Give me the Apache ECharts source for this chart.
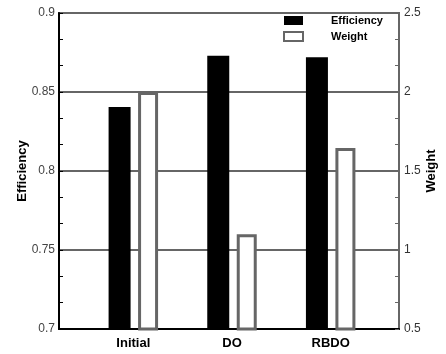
<!DOCTYPE html>
<html>
<head>
<meta charset="utf-8">
<script src="https://cdn.jsdelivr.net/npm/echarts@6/dist/echarts.min.js"></script>
<style>
html,body{margin:0;padding:0;background:#fff;}
#main{width:446px;height:354px;}
</style>
</head>
<body>
<div id="main"></div>
<script>
var categories = ['Initial', 'DO', 'RBDO'];
var efficiency = [0.8405, 0.873, 0.872];
var weight = [2.0, 1.1, 1.645];
var effTicks = [0.7, 0.9, 0.05];   // min, max, step
var weightTicks = [0.5, 2.5, 0.5];

var chart = echarts.init(document.getElementById('main'));
var font = 'Liberation Sans, Arial, sans-serif';

var option = {
	animation: false,
	legend: {
		orient: 'vertical',
		left: 283,
		top: 15,
		itemWidth: 19,
		itemHeight: 9,
		itemGap: 5,
		icon: 'rect',
		padding: 0,
		data: ['Efficiency', 'Weight'],
		textStyle: {fontFamily: font, fontSize: 11, fontWeight: 'bold', color: '#000', padding: [0, 0, 0, 23]}
	},
	grid: [
		// frame grid (axes, grid lines)
		{left: 59, right: 40, top: 13, bottom: 25, show: true, borderColor: '#666', borderWidth: 2},
		// bar grid, narrower so categories sit where they do in the figure
		{left: 84, right: 66, top: 13, bottom: 25}
	],
	xAxis: [
		{
			gridIndex: 0, type: 'category', data: categories,
			axisLine: {lineStyle: {color: '#000', width: 2}},
			axisTick: {show: false}, axisLabel: {show: false}
		},
		{
			gridIndex: 1, type: 'category', data: categories,
			axisLine: {show: false}, axisTick: {show: false},
			axisLabel: {margin: 8, fontFamily: font, fontSize: 13, fontWeight: 'bold', color: '#000'}
		}
	],
	yAxis: [
		{
			gridIndex: 0, type: 'value', min: effTicks[0], max: effTicks[1], interval: effTicks[2],
			name: 'Efficiency', nameLocation: 'middle', nameGap: 30, nameMoveOverlap: false,
			nameTextStyle: {fontFamily: font, fontSize: 13, fontWeight: 'bold', color: '#000'},
			axisLine: {show: true, lineStyle: {color: '#000', width: 2}},
			axisTick: {show: true, inside: true, length: 4, lineStyle: {color: '#000'}},
			minorTick: {show: true, splitNumber: 3, length: 4, lineStyle: {color: '#000'}},
			axisLabel: {margin: 4, fontFamily: font, fontSize: 12, color: '#444',
				formatter: function (v) { return String(+v.toFixed(2)); }},
			splitLine: {show: true, lineStyle: {color: '#666', width: 2}}
		},
		{
			gridIndex: 0, type: 'value', position: 'right', min: weightTicks[0], max: weightTicks[1], interval: weightTicks[2],
			name: 'Weight', nameLocation: 'middle', nameGap: 26, nameMoveOverlap: false,
			nameTextStyle: {fontFamily: font, fontSize: 13, fontWeight: 'bold', color: '#000'},
			axisLine: {show: true, lineStyle: {color: '#666', width: 2}},
			axisTick: {show: true, inside: true, length: 4, lineStyle: {color: '#666'}},
			minorTick: {show: true, splitNumber: 3, length: 4, lineStyle: {color: '#666'}},
			axisLabel: {margin: 5, fontFamily: font, fontSize: 12, color: '#333'},
			splitLine: {show: false}
		},
		{gridIndex: 1, type: 'value', min: effTicks[0], max: effTicks[1], show: false},
		{gridIndex: 1, type: 'value', min: weightTicks[0], max: weightTicks[1], show: false}
	],
	series: [
		{
			name: 'Efficiency', type: 'bar', xAxisIndex: 1, yAxisIndex: 2,
			barWidth: 22, barGap: '34%',
			itemStyle: {color: '#000'},
			data: efficiency
		},
		{
			name: 'Weight', type: 'bar', xAxisIndex: 1, yAxisIndex: 3,
			barWidth: 20, barGap: '34%',
			itemStyle: {color: '#fff', borderColor: '#666', borderWidth: 3},
			data: weight
		}
	]
};
chart.setOption(option);
</script>
</body>
</html>
